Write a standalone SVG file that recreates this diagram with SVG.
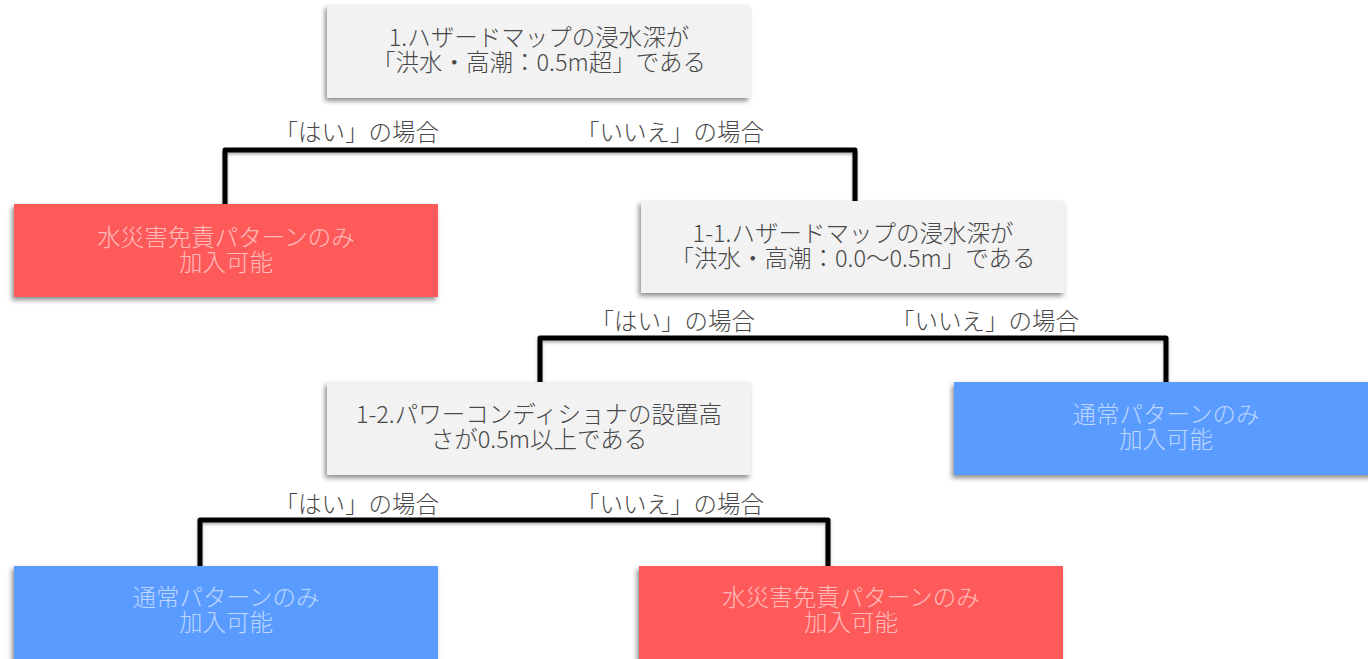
<svg xmlns="http://www.w3.org/2000/svg" width="1368" height="659" viewBox="0 0 1368 659">
<defs>
<filter id="sh" x="-10%" y="-20%" width="120%" height="150%">
<feDropShadow dx="-2" dy="3" stdDeviation="2.5" flood-color="#000" flood-opacity="0.45"/>
</filter>
<filter id="lsh" x="-5%" y="-50%" width="110%" height="200%">
<feDropShadow dx="0" dy="2" stdDeviation="1.5" flood-color="#000" flood-opacity="0.3"/>
</filter>
<style>
text{font-family:"Noto Sans CJK JP Light","Noto Sans CJK JP DemiLight","Noto Sans CJK JP","Noto Sans",sans-serif;font-weight:300;font-size:23.5px;dominant-baseline:central}
.q rect{fill:#f2f2f2;filter:url(#sh)}
.q text{fill:#484848;text-anchor:middle}
.r rect{fill:#ff5a5a;filter:url(#sh)}
.b rect{fill:#5a9bff;filter:url(#sh)}
.r text,.b text{fill:#fff;fill-opacity:0.6;text-anchor:middle}
.lbl{fill:#484848;text-anchor:end}
.c path{fill:none;stroke:#000;stroke-width:5;stroke-linejoin:round;filter:url(#lsh)}
</style>
</defs>
<g id="connectors" class="c">
<path d="M540,98 V150"/>
<path d="M225,205 V150 H855 V201"/>
<path d="M852,293 V338"/>
<path d="M540,382 V338 H1166 V382"/>
<path d="M514,475 V520"/>
<path d="M200,566 V520 H828 V566"/>
</g>
<g id="labels">
<text class="lbl" x="439" y="131">「はい」の場合</text>
<text class="lbl" x="764" y="131">「いいえ」の場合</text>
<text class="lbl" x="755" y="320">「はい」の場合</text>
<text class="lbl" x="1079" y="320">「いいえ」の場合</text>
<text class="lbl" x="439" y="503">「はい」の場合</text>
<text class="lbl" x="764" y="503">「いいえ」の場合</text>
</g>
<g id="q1" class="q">
<rect x="327" y="5" width="423" height="93"/>
<text x="539" y="36">1.ハザードマップの浸水深が</text>
<text x="539" y="61">「洪水・高潮：0.5m超」である</text>
</g>
<g id="r1" class="r">
<rect x="14" y="204" width="424" height="93"/>
<text x="226" y="236">水災害免責パターンのみ</text>
<text x="226" y="261">加入可能</text>
</g>
<g id="q11" class="q">
<rect x="641" y="201" width="424" height="92"/>
<text x="853" y="232">1-1.ハザードマップの浸水深が</text>
<text x="853" y="257">「洪水・高潮：0.0～0.5m」である</text>
</g>
<g id="b1" class="b">
<rect x="954" y="382" width="424" height="93"/>
<text x="1166" y="413">通常パターンのみ</text>
<text x="1166" y="438">加入可能</text>
</g>
<g id="q12" class="q">
<rect x="327" y="382" width="424" height="93"/>
<text x="539" y="413">1-2.パワーコンディショナの設置高</text>
<text x="539" y="438">さが0.5m以上である</text>
</g>
<g id="b2" class="b">
<rect x="14" y="566" width="424" height="98"/>
<text x="226" y="596">通常パターンのみ</text>
<text x="226" y="621">加入可能</text>
</g>
<g id="r2" class="r">
<rect x="639" y="566" width="424" height="98"/>
<text x="851" y="596">水災害免責パターンのみ</text>
<text x="851" y="621">加入可能</text>
</g>
</svg>
